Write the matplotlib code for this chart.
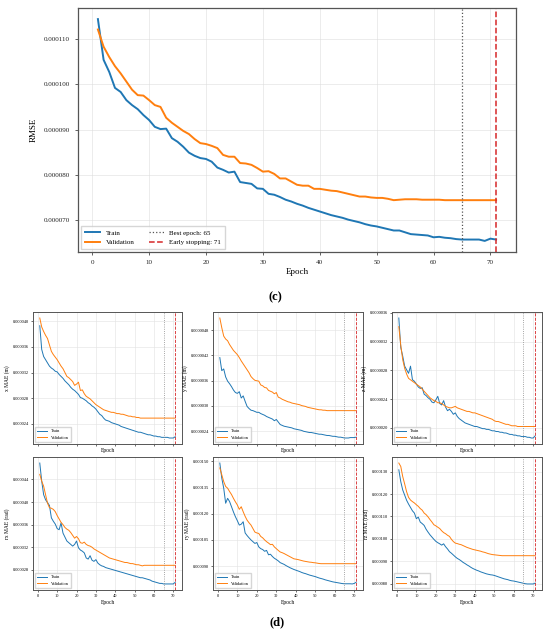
import numpy as np
import matplotlib.pyplot as plt
from matplotlib.ticker import MultipleLocator, FormatStrFormatter

plt.rcParams['font.family'] = ['Liberation Serif', 'DejaVu Serif']

epochs = np.arange(1, 72)
best_epoch = 65
stop_epoch = 71

# RMSE (x1e-6)
rmse_train = [114.4, 105.4, 102.7, 99.2, 98.3, 96.5, 95.4, 94.5, 93.2, 92.1,
              90.6, 90.1, 90.2, 88.1, 87.3, 86.2, 84.9, 84.2, 83.7, 83.5,
              82.9, 81.6, 81.1, 80.5, 80.7, 78.4, 78.2, 78.0, 77.0, 76.9,
              75.8, 75.6, 75.1, 74.5, 74.1, 73.6, 73.2, 72.7, 72.3, 71.9,
              71.5, 71.1, 70.8, 70.5, 70.1, 69.8, 69.5, 69.1, 68.8, 68.6,
              68.3, 68.0, 67.7, 67.7, 67.3, 66.9, 66.8, 66.7, 66.6, 66.2,
              66.3, 66.1, 66.0, 65.8, 65.7, 65.7, 65.7, 65.7, 65.4, 65.9, 65.7]
rmse_val = [112.1, 108.3, 106.0, 104.0, 102.4, 100.6, 98.8, 97.6, 97.5, 96.5,
            95.4, 95.0, 92.6, 91.5, 90.6, 89.7, 89.0, 87.9, 87.0, 86.8,
            86.4, 85.9, 84.4, 84.0, 84.0, 82.6, 82.5, 82.2, 81.5, 80.7,
            80.8, 80.2, 79.2, 79.2, 78.5, 77.8, 77.6, 77.6, 76.9, 76.9,
            76.7, 76.5, 76.4, 76.1, 75.8, 75.5, 75.2, 75.2, 75.0, 74.9,
            74.9, 74.7, 74.4, 74.5, 74.6, 74.6, 74.6, 74.5, 74.5, 74.5,
            74.5, 74.4, 74.4, 74.4, 74.4, 74.4, 74.4, 74.4, 74.4, 74.4, 74.4]

# x MAE (x1e-6 m)
x_train = [39.3, 35.6, 34.5, 34.0, 33.5, 33.0, 32.7, 32.5, 32.2, 32.1,
           31.7, 31.4, 31.1, 30.7, 30.4, 30.1, 29.7, 29.4, 29.2, 28.9,
           28.6, 28.1, 28.0, 27.8, 27.6, 27.3, 27.1, 26.8, 26.6, 26.3,
           25.9, 25.5, 25.3, 24.9, 24.6, 24.5, 24.4, 24.2, 24.1, 24.0,
           23.9, 23.8, 23.6, 23.5, 23.4, 23.3, 23.2, 23.1, 23.0, 22.9,
           22.8, 22.7, 22.7, 22.6, 22.5, 22.4, 22.3, 22.3, 22.2, 22.1,
           22.1, 22.0, 22.0, 21.9, 21.9, 21.9, 21.9, 21.8, 21.8, 21.8, 22.0]
x_val = [40.5, 39.1, 38.4, 37.8, 37.3, 36.3, 35.3, 34.8, 34.4, 34.0,
         33.5, 33.0, 32.6, 32.0, 31.4, 31.2, 30.9, 30.6, 30.0, 30.2,
         30.5, 29.2, 29.3, 28.7, 28.3, 28.1, 27.9, 27.6, 27.3, 27.0,
         26.8, 26.6, 26.4, 26.2, 26.1, 26.0, 25.9, 25.8, 25.8, 25.7,
         25.6, 25.6, 25.5, 25.5, 25.4, 25.3, 25.2, 25.2, 25.1, 25.1,
         25.0, 25.0, 24.9, 24.9, 24.9, 24.9, 24.9, 24.9, 24.9, 24.9,
         24.9, 24.9, 24.9, 24.9, 24.9, 24.9, 24.9, 24.9, 24.9, 24.9, 24.9]

# y MAE (x1e-7 m)
y_train = [41.5, 38.4, 38.8, 36.9, 35.9, 35.3, 34.6, 33.8, 33.2, 33.0,
           33.4, 31.9, 32.4, 31.1, 29.9, 29.4, 29.0, 28.9, 28.7, 28.5,
           28.5, 28.2, 28.0, 27.8, 27.5, 27.3, 27.1, 26.9, 26.5, 26.8,
           26.2, 25.6, 25.4, 25.2, 25.1, 25.0, 24.9, 24.8, 24.6, 24.5,
           24.4, 24.3, 24.2, 24.0, 23.9, 23.8, 23.7, 23.7, 23.6, 23.5,
           23.4, 23.3, 23.3, 23.2, 23.1, 23.0, 23.0, 22.9, 22.8, 22.8,
           22.7, 22.6, 22.6, 22.5, 22.4, 22.4, 22.4, 22.5, 22.5, 22.5, 22.6]
y_val = [50.9, 48.6, 46.6, 45.9, 45.5, 44.6, 43.9, 43.2, 42.7, 42.2,
         41.5, 40.7, 40.0, 39.3, 38.6, 37.9, 37.0, 36.5, 36.1, 36.0,
         35.9, 35.0, 34.8, 34.4, 34.3, 33.7, 33.5, 33.3, 32.9, 33.2,
         32.1, 31.9, 31.6, 31.4, 31.2, 31.0, 30.9, 30.7, 30.6, 30.5,
         30.4, 30.3, 30.1, 30.0, 29.9, 29.7, 29.6, 29.5, 29.4, 29.3,
         29.2, 29.1, 29.1, 29.0, 29.0, 28.9, 28.9, 28.9, 28.9, 28.9,
         28.9, 28.9, 28.9, 28.9, 28.9, 28.9, 28.9, 28.9, 28.9, 28.9, 28.9]

# z MAE (x1e-7 m)
z_train = [35.3, 31.2, 30.0, 28.6, 28.1, 27.6, 28.6, 26.7, 26.5, 26.1,
           25.7, 25.5, 25.6, 24.7, 24.5, 24.2, 24.0, 23.6, 23.5, 23.9,
           24.4, 23.4, 23.2, 23.8, 22.9, 22.4, 22.6, 22.3, 21.9, 22.1,
           21.6, 21.3, 21.1, 20.9, 20.7, 20.6, 20.5, 20.4, 20.3, 20.2,
           20.2, 20.1, 20.0, 19.9, 19.9, 19.8, 19.8, 19.7, 19.6, 19.6,
           19.5, 19.5, 19.4, 19.4, 19.3, 19.3, 19.2, 19.1, 19.1, 19.0,
           19.0, 18.9, 18.9, 18.8, 18.8, 18.8, 18.7, 18.7, 18.6, 18.6, 18.9]
z_val = [34.1, 31.5, 29.5, 28.3, 27.5, 26.9, 26.7, 26.5, 26.3, 26.1,
         25.9, 25.7, 25.4, 25.1, 24.8, 24.5, 24.2, 24.0, 23.8, 23.7,
         23.5, 23.5, 23.4, 23.2, 23.0, 22.9, 22.8, 22.8, 22.9, 23.0,
         22.8, 22.7, 22.6, 22.5, 22.4, 22.3, 22.3, 22.2, 22.1, 22.1,
         22.0, 21.9, 21.8, 21.7, 21.6, 21.5, 21.4, 21.3, 21.2, 21.0,
         20.9, 20.9, 20.8, 20.7, 20.6, 20.5, 20.5, 20.4, 20.3, 20.3,
         20.3, 20.2, 20.2, 20.2, 20.2, 20.2, 20.2, 20.2, 20.2, 20.2, 20.2]

# rx MAE (x1e-6 rad)
rx_train = [46.9, 43.7, 41.3, 40.4, 39.9, 39.4, 37.2, 36.6, 36.1, 35.3,
            35.1, 36.3, 34.5, 33.8, 33.1, 32.8, 32.5, 32.2, 32.5, 33.1,
            31.9, 31.5, 31.3, 31.0, 30.1, 29.9, 30.5, 29.7, 29.5, 29.8,
            29.2, 28.9, 28.7, 28.6, 28.4, 28.3, 28.2, 28.1, 28.0, 27.9,
            27.8, 27.7, 27.6, 27.5, 27.4, 27.3, 27.2, 27.1, 27.0, 26.9,
            26.8, 26.7, 26.6, 26.6, 26.5, 26.4, 26.3, 26.2, 26.0, 25.9,
            25.8, 25.7, 25.6, 25.6, 25.5, 25.5, 25.5, 25.5, 25.5, 25.5, 25.8]
rx_val = [44.9, 43.7, 42.8, 41.3, 39.8, 39.0, 38.9, 38.7, 38.3, 37.6,
          37.0, 36.4, 36.0, 35.5, 35.2, 35.0, 34.6, 34.1, 33.6, 33.9,
          33.5, 32.8, 32.7, 32.9, 32.5, 32.3, 32.2, 32.0, 31.7, 31.5,
          31.3, 31.1, 30.9, 30.7, 30.5, 30.3, 30.1, 30.0, 29.9, 29.8,
          29.7, 29.6, 29.5, 29.4, 29.3, 29.3, 29.2, 29.1, 29.1, 29.0,
          28.9, 28.9, 28.8, 28.7, 28.8, 28.8, 28.8, 28.8, 28.8, 28.8,
          28.8, 28.8, 28.8, 28.8, 28.8, 28.8, 28.8, 28.8, 28.8, 28.8, 28.8]

# ry MAE (x1e-6 rad)
ry_train = [149.0, 140.4, 134.6, 126.0, 128.8, 127.0, 124.0, 121.0, 118.3, 116.0,
            113.5, 114.0, 115.4, 109.0, 107.5, 106.2, 105.0, 104.0, 103.0, 103.5,
            101.0, 100.0, 99.5, 98.5, 99.0, 96.5, 96.8, 95.5, 94.5, 93.8,
            93.0, 92.0, 91.5, 91.0, 90.3, 89.7, 89.1, 88.6, 88.1, 87.7,
            87.3, 86.9, 86.4, 86.0, 85.7, 85.3, 84.9, 84.6, 84.3, 84.0,
            83.6, 83.2, 82.9, 82.6, 82.2, 81.9, 81.6, 81.3, 81.0, 80.8,
            80.6, 80.4, 80.2, 80.0, 79.9, 79.9, 79.9, 79.9, 79.8, 80.1, 80.8]
ry_val = [146.2, 142.3, 138.4, 135.6, 134.6, 132.7, 131.0, 128.8, 126.8, 125.0,
          122.5, 124.0, 121.1, 118.5, 116.3, 114.8, 113.5, 111.5, 109.5, 109.0,
          108.7, 107.0, 106.2, 105.0, 104.0, 103.2, 102.3, 102.5, 101.0, 100.0,
          99.0, 98.1, 97.7, 97.2, 96.6, 96.0, 95.4, 94.8, 94.2, 94.0,
          93.8, 93.5, 93.2, 92.9, 92.7, 92.5, 92.3, 92.2, 92.0, 91.9,
          91.7, 91.5, 91.4, 91.4, 91.4, 91.4, 91.4, 91.4, 91.4, 91.4,
          91.4, 91.4, 91.4, 91.4, 91.4, 91.4, 91.4, 91.4, 91.4, 91.4, 91.4]

# rz MAE (x1e-6 rad)
rz_train = [130.8, 125.5, 121.8, 119.5, 117.2, 115.5, 114.0, 112.5, 111.5, 109.0,
            109.7, 107.5, 106.8, 106.0, 104.3, 103.0, 101.8, 100.8, 99.8, 98.9,
            98.3, 97.8, 97.2, 97.8, 96.5, 95.5, 94.3, 93.6, 92.8, 92.0,
            91.3, 90.8, 90.2, 89.5, 89.0, 88.4, 87.9, 87.3, 86.8, 86.4,
            86.0, 85.7, 85.3, 85.0, 84.7, 84.4, 84.2, 84.0, 83.9, 83.7,
            83.4, 83.1, 82.8, 82.5, 82.2, 82.0, 81.8, 81.5, 81.3, 81.2,
            81.0, 80.8, 80.6, 80.4, 80.2, 80.0, 79.9, 79.9, 79.9, 79.9, 80.3]
rz_val = [133.8, 132.3, 127.8, 124.5, 121.0, 118.5, 117.3, 116.6, 116.0, 115.2,
          114.5, 113.5, 112.8, 111.5, 110.8, 109.8, 108.6, 107.5, 106.3, 105.8,
          105.2, 104.6, 103.6, 102.8, 102.3, 101.6, 101.1, 99.8, 98.8, 98.1,
          97.9, 97.6, 97.4, 97.0, 96.6, 96.2, 95.9, 95.6, 95.3, 95.1,
          94.9, 94.7, 94.5, 94.2, 94.0, 93.7, 93.4, 93.2, 93.0, 92.9,
          92.8, 92.7, 92.6, 92.5, 92.5, 92.5, 92.5, 92.5, 92.5, 92.5,
          92.5, 92.5, 92.5, 92.5, 92.5, 92.5, 92.5, 92.5, 92.5, 92.5, 92.5]

panels = [
    ('x MAE (m)', x_train, x_val, 1e-6, 4e-6, '%.6f'),
    ('y MAE (m)', y_train, y_val, 1e-7, 6e-7, '%.7f'),
    ('z MAE (m)', z_train, z_val, 1e-7, 4e-7, '%.7f'),
    ('rx MAE (rad)', rx_train, rx_val, 1e-6, 4e-6, '%.6f'),
    ('ry MAE (rad)', ry_train, ry_val, 1e-6, 1.5e-5, '%.6f'),
    ('rz MAE (rad)', rz_train, rz_val, 1e-6, 1e-5, '%.6f'),
]

blue = '#1f77b4'
orange = '#ff7f0e'
spine_col = '#555555'

fig = plt.figure(figsize=(5.5, 6.34), dpi=100)

# ---- (c) RMSE ----
W, H = 550, 634
ax = fig.add_axes([78 / W, 1 - 252 / H, (516 - 78) / W, (252 - 8) / H])
ax.plot(epochs, np.array(rmse_train) * 1e-6, color=blue, lw=1.4, label='Train')
ax.plot(epochs, np.array(rmse_val) * 1e-6, color=orange, lw=1.4, label='Validation')
ax.axvline(best_epoch, color='#555555', ls=':', lw=0.9, label=f'Best epoch: {best_epoch}')
ax.axvline(stop_epoch, color='#d62728', ls='--', lw=1.1, label=f'Early stopping: {stop_epoch}')
ax.set_xlabel('Epoch', fontsize=6.5, labelpad=2)
ax.set_ylabel('RMSE', fontsize=6.5, labelpad=4)
ax.xaxis.set_major_locator(MultipleLocator(10))
ax.yaxis.set_major_locator(MultipleLocator(1e-5))
ax.yaxis.set_major_formatter(FormatStrFormatter('%.6f'))
ax.tick_params(labelsize=5, length=2.5, width=0.5, colors='#222222')
ax.grid(True, color='#dddddd', lw=0.5, alpha=0.8)
for s in ax.spines.values():
    s.set_color(spine_col)
    s.set_linewidth(0.9)
ax.legend(loc='lower left', ncol=2, fontsize=5, frameon=True, edgecolor='#cccccc',
          fancybox=False, handlelength=2.2, columnspacing=2.0, borderpad=0.5)

fig.text(0.5, 1 - 297 / H, '(c)', ha='center', va='center', fontsize=9, fontweight='bold')

# ---- (d) per-axis MAE ----
col_x = [(33, 182), (213, 363), (392, 542)]
row_y = [(312, 444), (457, 590)]

for i, (label, tr, va, scale, step, fmt) in enumerate(panels):
    r, c = divmod(i, 3)
    x0, x1 = col_x[c]
    y0, y1 = row_y[r]
    a = fig.add_axes([x0 / W, 1 - y1 / H, (x1 - x0) / W, (y1 - y0) / H])
    a.plot(epochs, np.array(tr) * scale, color=blue, lw=0.7, label='Train')
    a.plot(epochs, np.array(va) * scale, color=orange, lw=0.7, label='Validation')
    a.axvline(best_epoch, color='#888888', ls=':', lw=0.6)
    a.axvline(stop_epoch, color='#d62728', ls='--', lw=0.6)
    a.xaxis.set_major_locator(MultipleLocator(10))
    a.yaxis.set_major_locator(MultipleLocator(step))
    a.yaxis.set_major_formatter(FormatStrFormatter(fmt))
    a.tick_params(labelsize=3.2, length=1.5, width=0.4, pad=1.5)
    if r == 0:
        a.tick_params(labelbottom=False)
    a.set_xlabel('Epoch', fontsize=4, labelpad=1.5)
    a.set_ylabel(label, fontsize=4, labelpad=2)
    a.grid(True, color='#e2e2e2', lw=0.4)
    for s in a.spines.values():
        s.set_color(spine_col)
        s.set_linewidth(0.7)
    a.legend(loc='lower left', fontsize=3.2, frameon=True, edgecolor='#cccccc',
             fancybox=False, handlelength=2.2, borderpad=0.5)

fig.text(0.503, 1 - 622 / H, '(d)', ha='center', va='center', fontsize=9, fontweight='bold')

fig.savefig('out.png', dpi=100, facecolor='white')
